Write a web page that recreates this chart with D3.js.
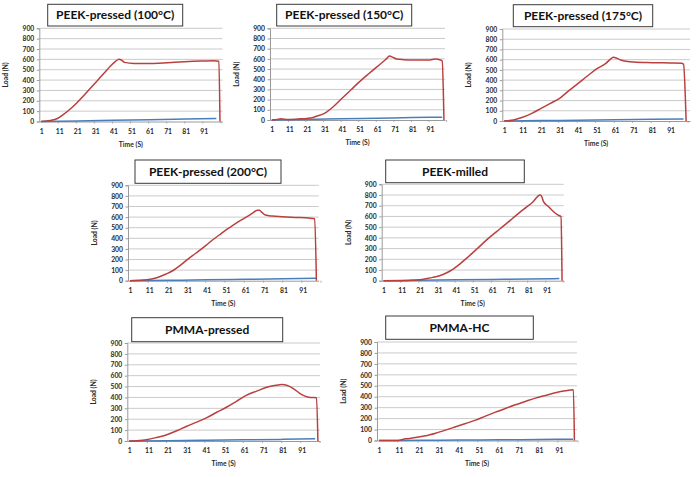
<!DOCTYPE html>
<html><head><meta charset="utf-8">
<script src="https://cdn.jsdelivr.net/npm/d3@7"></script>
<style>body{margin:0;background:#fff} svg{display:block}</style>
</head><body>
<svg id="c" width="700" height="477"></svg>
<script>
// ---- data ----
const titles = ["PEEK-pressed (100°C)","PEEK-pressed (150°C)","PEEK-pressed (175°C)","PEEK-pressed (200°C)","PEEK-milled","PMMA-pressed","PMMA-HC"];
const yTicks = [0,100,200,300,400,500,600,700,800,900];
const xTickLabels = [1,11,21,31,41,51,61,71,81,91];
const xAxisTitle = "Time (S)";
const yAxisTitle = "Load (N)";

const time100 = [1,6,10,13.6,17.3,21,24.7,28.4,32.1,35.8,39.4,42.2,44.1,45.4,47.2,52.4,61.6,70.9,80.1,89.4,96.7,99.4,100];
const load100 = [0,10,29,71,123,184,252,323,394,465,535,581,600,594,571,561,561,568,577,584,587,581,0];
const time150 = [1,4,6,8,11,16,21,24,26,31,36,41,46,51,56,61,66,68,70,72,76,81,91,94,97,98,99];
const load150 = [0,5,12,8,6,10,15,22,35,65,130,213,295,377,452,524,596,628,615,599,592,589,589,598,589,580,0];
const time175 = [1,6,11,16,21,26,31,36,41,46,51,56,59,60,62,64,66,71,81,91,97,98,99.4];
const load175 = [0,10,36,75,124,173,222,297,368,440,509,564,613,623,613,597,587,577,571,567,564,554,0];
const time200 = [1,7.7,12.9,16.4,19.8,23.3,26.7,30.2,33.6,37.1,40.6,44,47.5,50.9,54.4,57.8,61.3,64.7,67.3,68.5,69.9,71.6,75.1,80.3,87.2,94.1,97.2,98.1];
const load200 = [0,6,19,38,63,94,138,189,236,283,333,384,431,478,519,560,597,635,664,664,642,619,610,604,597,591,585,0];
const timeMilled = [1,6,15,21,24.5,28.2,31.9,35.6,39.2,42.9,46.6,50.3,53.9,57.6,61.3,65,68.6,72.3,76,79.7,83.4,86.1,87.4,88.3,89.2,91.6,94.4,97.1,98.9,99.5];
const loadMilled = [0,0,3,9,19,31,47,72,106,153,206,262,318,377,430,480,530,583,636,685,735,788,801,785,741,698,651,614,598,0];
const timePmmaP = [1,5,10,15.4,20.6,25.8,31,36.2,41.5,46.7,51.9,57.1,62.3,67.5,72.7,77.9,80.5,83.1,86.6,90.1,92.7,95.3,98.7,99.4];
const loadPmmaP = [0,3,12,33,58,94,136,173,215,264,312,367,421,458,494,512,518,512,482,436,412,400,397,0];
const timePmmaHC = [1,10.2,14.3,19.3,24.3,29.3,34.3,39.3,44.3,49.3,54.2,59.2,64.2,69.2,74.2,79.2,84.2,89.2,94.2,98.2,98.7];
const loadPmmaHC = [0,0,15,27,43,67,95,125,155,186,223,259,293,326,357,387,412,436,454,463,0];

const dispTime = [1,21,41,61,81,98];
const disp100 = [0,6,12,17,23,30];
const disp150 = [0,5,12,18,24,28];
const disp175 = [0,4,8,12,16,20];
const disp200 = [0,4,8,13,18,22];
const dispMilled = [0,4,8,12,16,20];
const dispPmmaP = [0,3,7,11,15,20];
const dispPmmaHC = [0,2,4,6,9,12];

const loadTimes = [time100,time150,time175,time200,timeMilled,timePmmaP,timePmmaHC];
const loads = [load100,load150,load175,load200,loadMilled,loadPmmaP,loadPmmaHC];
const disps = [disp100,disp150,disp175,disp200,dispMilled,dispPmmaP,dispPmmaHC];

// ---- layout ----
const layout = [
  {box:[47.7,4.3,135,21.7], plot:[39.3,28.3,222.5,121.5], dMax:101.4},
  {box:[276.7,4.3,135,21.7], plot:[270,28.3,445,120], dMax:99.6},
  {box:[513.3,4.7,139.4,22], plot:[502.3,29,690,121], dMax:101.5},
  {box:[135,160,146,23.3], plot:[128,185.3,318.7,280.7], dMax:99.3},
  {box:[385.7,160,138.6,22.7], plot:[381.7,184.3,563.7,280.7], dMax:100.4},
  {box:[131.7,317.7,151,24], plot:[127.3,343,320,441], dMax:100.5},
  {box:[385.7,316,147.6,23.3], plot:[377,342,577,440.5], dMax:100}
];

const RED = "#b9403e", BLUE = "#4a7ebb";
const svg = d3.select("#c");
const font = "Lato, 'Open Sans', sans-serif";

titles.forEach((title, i) => {
  const L = layout[i];
  const [x0, y0, x1, y1] = L.plot;
  const x = d3.scaleLinear().domain([0, L.dMax]).range([x0, x1]);
  const y = d3.scaleLinear().domain([0, 900]).range([y1, y0]);
  const g = svg.append("g");

  // gridlines
  g.selectAll(".grid").data(yTicks.filter(d => d > 0)).enter().append("line")
    .attr("x1", x0).attr("x2", x1).attr("y1", d => y(d)).attr("y2", d => y(d))
    .attr("stroke", "#c4c4c4").attr("stroke-width", 0.9);

  // y axis
  const ya = g.append("g").attr("transform", `translate(${x0},0)`)
    .call(d3.axisLeft(y).tickValues(yTicks).tickSize(2.5).tickPadding(2.5));
  ya.select(".domain").attr("stroke", "#9a9a9a");
  ya.selectAll(".tick line").attr("stroke", "#9a9a9a");
  ya.selectAll("text").attr("font-family", font).attr("font-weight", "bold")
    .attr("font-size", 6.8).attr("fill", "#2a2a2a");

  // x axis
  const xa = g.append("g").attr("transform", `translate(0,${y1})`)
    .call(d3.axisBottom(x).tickValues(xTickLabels).tickSize(0).tickPadding(7.5).tickFormat(d3.format("d")));
  xa.select(".domain").attr("stroke", "#9a9a9a");
  xa.selectAll("text").attr("font-family", font).attr("font-weight", "bold")
    .attr("font-size", 6.8).attr("fill", "#2a2a2a");
  g.selectAll(".xt").data(xTickLabels.map(d => d + 9.5)).enter().append("line")
    .attr("x1", d => x(d)).attr("x2", d => x(d)).attr("y1", y1).attr("y2", y1 + 2)
    .attr("stroke", "#9a9a9a").attr("stroke-width", 0.8);

  // axis titles
  g.append("text").attr("x", (x0 + x1) / 2).attr("y", y1 + 25)
    .attr("text-anchor", "middle").attr("font-family", font).attr("font-weight", "bold")
    .attr("font-size", 6.8).attr("fill", "#2a2a2a").text(xAxisTitle);
  g.append("text").attr("transform", `translate(${x0 - 31},${(y0 + y1) / 2}) rotate(-90)`)
    .attr("text-anchor", "middle").attr("font-family", font).attr("font-weight", "bold")
    .attr("font-size", 6.8).attr("fill", "#2a2a2a").text(yAxisTitle);

  // lines
  const dispLine = d3.line().x((d, k) => x(dispTime[k])).y(d => y(d)).curve(d3.curveMonotoneX);
  g.append("path").attr("d", dispLine(disps[i])).attr("fill", "none")
    .attr("stroke", BLUE).attr("stroke-width", 1.5);
  const t = loadTimes[i];
  const loadLine = d3.line().x((d, k) => x(t[k])).y(d => y(d)).curve(d3.curveMonotoneX);
  g.append("path").attr("d", loadLine(loads[i])).attr("fill", "none")
    .attr("stroke", RED).attr("stroke-width", 1.5).attr("stroke-linejoin", "round");

  // title box
  const [bx, by, bw, bh] = L.box;
  g.append("rect").attr("x", bx).attr("y", by).attr("width", bw).attr("height", bh)
    .attr("fill", "#fff").attr("stroke", "#3a3a3a").attr("stroke-width", 1);
  g.append("text").attr("x", bx + bw / 2).attr("y", by + bh / 2 + 4.2)
    .attr("text-anchor", "middle").attr("font-family", font).attr("font-weight", "bold")
    .attr("font-size", 12).attr("fill", "#111").text(title);
});
</script>
</body></html>
